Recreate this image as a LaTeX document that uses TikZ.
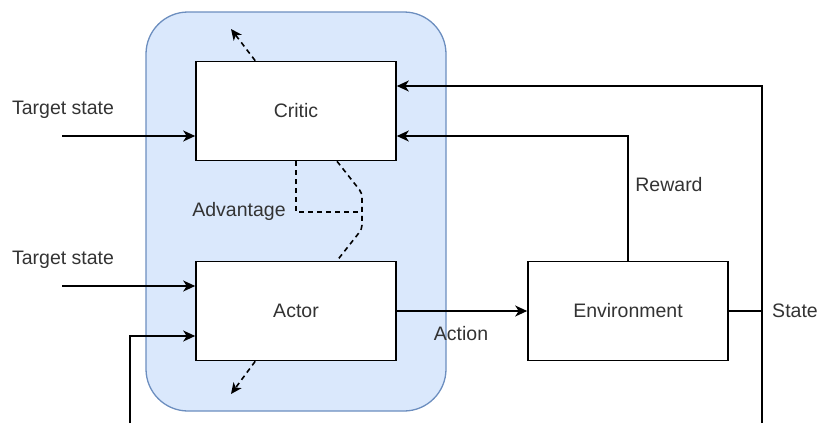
\documentclass[tikz,border=0pt]{standalone}
\usepackage{fontspec}
\setmainfont{Liberation Sans}
\usetikzlibrary{arrows.meta,calc}
\definecolor{grpfill}{HTML}{DAE8FC}
\definecolor{grpline}{HTML}{6C8EBF}
\definecolor{txt}{HTML}{333333}
\begin{document}
\begin{tikzpicture}[x=1pt,y=-1pt,
  box/.style={draw, line width=1.6pt, fill=white, minimum width=200pt, minimum height=99pt, inner sep=0pt,
    font=\fontsize{19.5}{23}\selectfont, text=txt},
  lbl/.style={font=\fontsize{19.5}{23}\selectfont, text=txt, inner sep=0pt},
  conn/.style={line width=1.6pt, -{Stealth[length=12pt,width=11pt,inset=3.5pt]}},
  dashline/.style={line width=1.6pt, dash pattern=on 5pt off 4pt},
]
\useasboundingbox (0,0) rectangle (819,423);

% agent container
\node (agent) at (296,211.5) [draw=grpline, fill=grpfill, line width=1.3pt, rounded corners=42pt,
  minimum width=300pt, minimum height=399pt] {};

% blocks
\node[box] (critic) at (296,111) {Critic};
\node[box] (actor) at (296,311) {Actor};
\node[box] (env) at (628,311) {Environment};

% labels
\node[lbl] (ts1) at (63,110) {Target state};
\node[lbl] (ts2) at (63,260) {Target state};
\node[lbl] (rew) at (669,185) {Reward};
\node[lbl] (st) at (795,311) {State};
\node[lbl] (act) at (461,334) {Action};
\node[lbl] (adv) at (239,211) {Advantage};

% free ends
\coordinate (in1) at (62,136);
\coordinate (in2) at (62,286);
\coordinate (fbb) at (130,423);
\coordinate (fbc) at (130,336);
\coordinate (stb) at (762,423);
\coordinate (stt) at (762,86);

% target state inputs
\draw[conn] (in1) -- (in1 -| critic.west);
\draw[conn] (in2) -- (in2 -| actor.west);
\draw[conn] (fbb) -- (fbc) -- (fbc -| actor.west);

% action
\draw[conn] (actor.east) -- (env.west);

% reward
\draw[conn] (env.north) -- (env.north |- in1) -- (in1 -| critic.east);

% state feedback
\draw[line width=1.6pt] (env.east) -- (env.east -| stb);
\draw[conn] (stb) -- (stt) -- (stt -| critic.east);

% parameter updates
\draw[dashline, -{Stealth[length=11pt,width=10pt,inset=3pt]}] ($(critic.north west)+(60,0)$) -- (231,29);
\draw[dashline, -{Stealth[length=11pt,width=10pt,inset=3pt]}] ($(actor.south west)+(60,0)$) -- (231,394);

% advantage signal
\draw[dashline] (critic.south) -- (296,212) -- (362,212);
\draw[dashline, rounded corners=4pt] ($(critic.south)+(41,0)$) -- (362,193) -- (362,229) -- ($(actor.north)+(41,0)$);
\end{tikzpicture}
\end{document}
